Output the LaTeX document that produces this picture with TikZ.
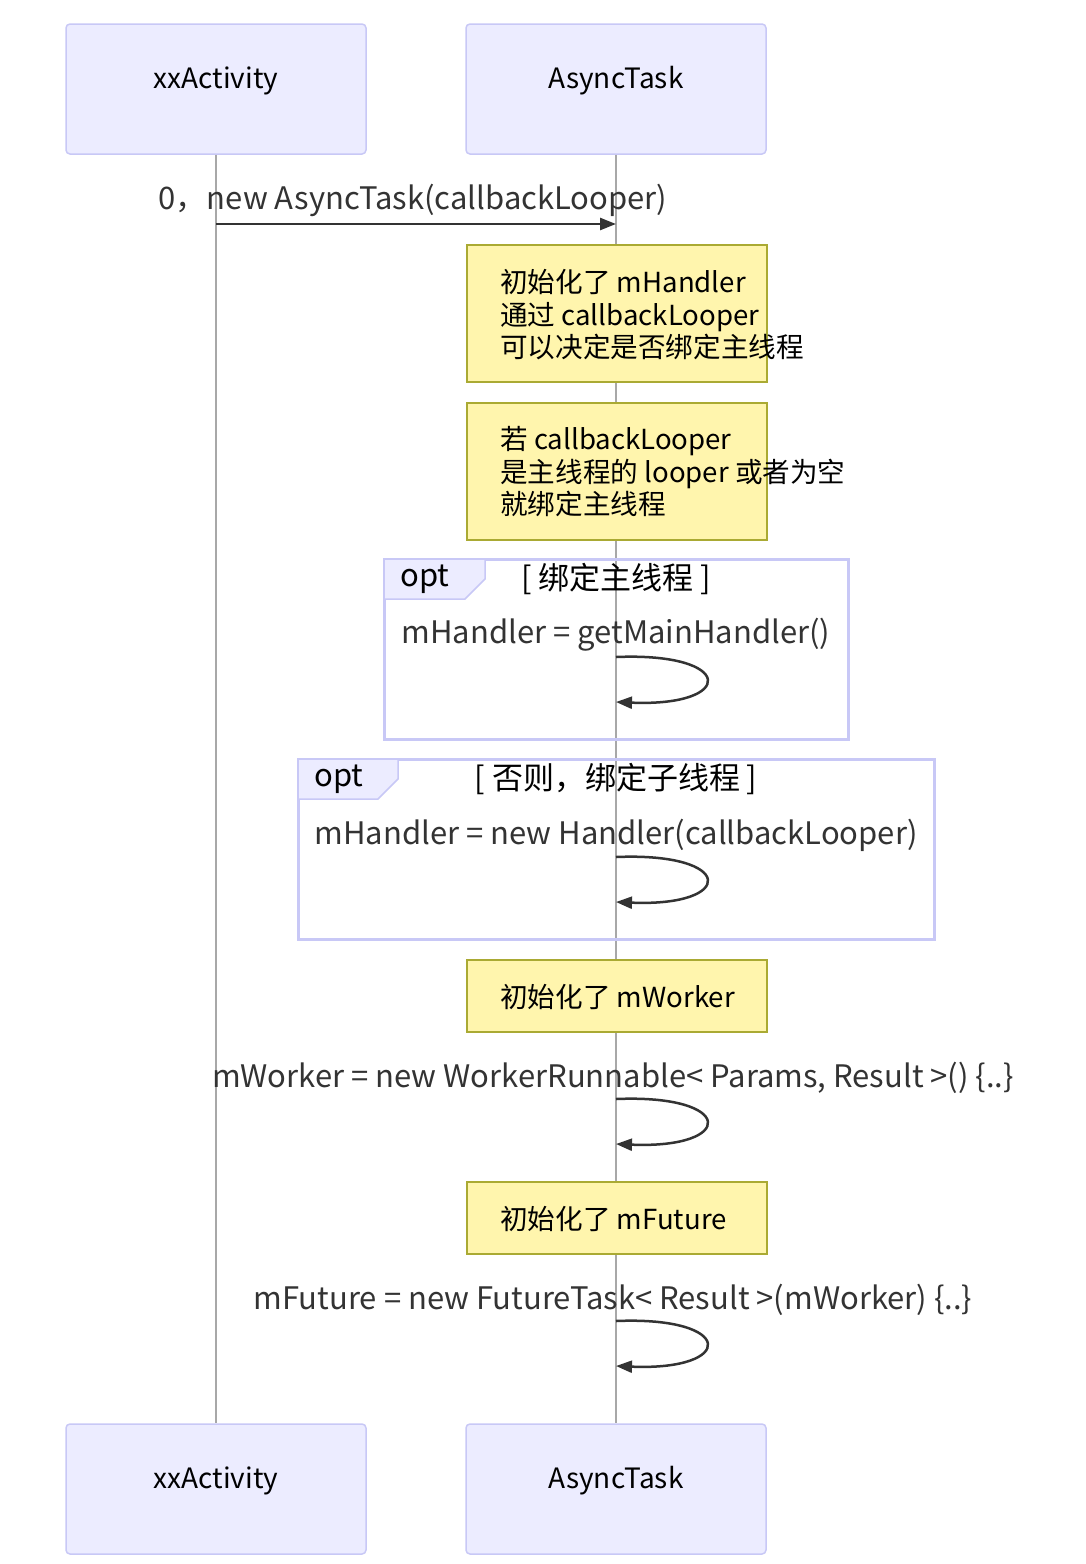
\documentclass[tikz,border=0pt]{standalone}
\usepackage{fontspec}
\setmainfont{Noto Sans CJK SC}
\usetikzlibrary{arrows.meta}
\definecolor{actfill}{HTML}{ECECFF}
\definecolor{actline}{HTML}{C8C8F6}
\definecolor{notefill}{HTML}{FFF5AD}
\definecolor{noteline}{HTML}{AAAA33}
\definecolor{txt}{HTML}{333333}
\definecolor{life}{HTML}{A8A8A8}
\begin{document}
\begin{tikzpicture}[x=1pt,y=-1pt,line width=2.5pt,>={Triangle[length=16pt,width=12pt]},
  act/.style={draw=actline,fill=actfill,line width=1.5pt,rounded corners=4pt,minimum width=300pt,minimum height=130pt,inner sep=0pt},
  acttxt/.style={font=\fontsize{28}{33}\selectfont,text=black},
  note/.style={draw=noteline,fill=notefill,line width=1.5pt,minimum width=300pt,anchor=north west,inner sep=0pt},
  ntxt/.style={font=\fontsize{27.6}{32.5}\selectfont,align=left,anchor=west,inner sep=0pt,text=black},
  msg/.style={font=\fontsize{31}{36}\selectfont,text=txt,inner sep=0pt},
  frame/.style={draw=actline,line width=3pt},
  life/.style={draw=life,line width=1.5pt},
  loop/.style={draw=txt,->}]
\fill[white] (0,0) rectangle (1086,1564);
\useasboundingbox (0,0) rectangle (1086,1564);
% actors and lifelines
\foreach \n/\x/\t in {1/216/xxActivity,2/616/AsyncTask}{
  \node[act] (a\n) at (\x,89) {};
  \node[acttxt] (at\n) at (\x,81) {\t};
  \node[act] (b\n) at (\x,1489) {};
  \node[acttxt] (bt\n) at (\x,1481) {\t};
  \draw[life] (a\n) -- (b\n);
}
% message 0
\node[msg] (m0) at (413,200) {0，new AsyncTask(callbackLooper)};
\coordinate (m0s) at (216,224);
\coordinate (m0e) at (616,224);
\draw[txt,->] (m0s) -- (m0e);
% notes
\node[note,minimum height=137pt] (n1) at (466,244) {};
\node[ntxt] (t1) at (499,315) {初始化了 mHandler\\通过 callbackLooper\\可以决定是否绑定主线程};
\node[note,minimum height=137pt] (n2) at (466,402) {};
\node[ntxt] (t2) at (499,472) {若 callbackLooper\\是主线程的 looper 或者为空\\就绑定主线程};
% opt 1
\draw[frame] (384,559) rectangle (848,739);
\draw[draw=actline,fill=actfill,line width=1.5pt] (384,559) -- (485,559) -- (485,579) -- (465,599) -- (384,599) -- cycle;
\node[msg,anchor=west,text=black] (o1) at (399,579) {opt};
\node[msg,text=black] (o1t) at (616,579) {[ 绑定主线程 ]};
\node[msg] (m1) at (616,635) {mHandler = getMainHandler()};
\coordinate (l1s) at (616,657);
\coordinate (l1e) at (616,702);
\draw[loop] (l1s) .. controls +(120,-5) and +(120,5) .. (l1e);
% opt 2
\draw[frame] (298,759) rectangle (934,939);
\draw[draw=actline,fill=actfill,line width=1.5pt] (298,759) -- (398,759) -- (398,779) -- (378,799) -- (298,799) -- cycle;
\node[msg,anchor=west,text=black] (o2) at (313,779) {opt};
\node[msg,text=black] (o2t) at (616,779) {[ 否则，绑定子线程 ]};
\node[msg] (m2) at (616,835) {mHandler = new Handler(callbackLooper)};
\coordinate (l2s) at (616,857);
\coordinate (l2e) at (616,902);
\draw[loop] (l2s) .. controls +(120,-5) and +(120,5) .. (l2e);
% mWorker
\node[note,minimum height=72pt] (n3) at (466,959) {};
\node[ntxt] (t3) at (499,997) {初始化了 mWorker};
\node[msg] (m3) at (613,1078) {mWorker = new WorkerRunnable< Params, Result >() \{..\}};
\coordinate (l3s) at (616,1099);
\coordinate (l3e) at (616,1144);
\draw[loop] (l3s) .. controls +(120,-5) and +(120,5) .. (l3e);
% mFuture
\node[note,minimum height=72pt] (n4) at (466,1181) {};
\node[ntxt] (t4) at (499,1219) {初始化了 mFuture};
\node[msg] (m4) at (613,1300) {mFuture = new FutureTask< Result >(mWorker) \{..\}};
\coordinate (l4s) at (616,1321);
\coordinate (l4e) at (616,1366);
\draw[loop] (l4s) .. controls +(120,-5) and +(120,5) .. (l4e);
\end{tikzpicture}
\end{document}
